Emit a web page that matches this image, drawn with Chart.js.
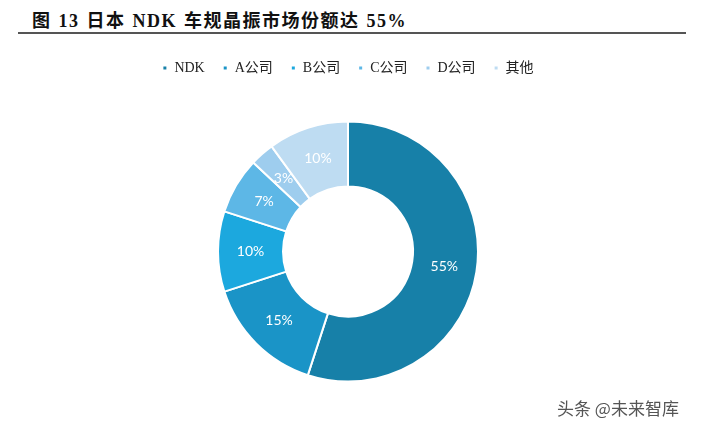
<!DOCTYPE html>
<html lang="zh">
<head>
  <meta charset="UTF-8">
  <title>日本 NDK 车规晶振市场份额</title>
  <script src="https://cdn.jsdelivr.net/npm/chart.js"></script>
  <style>
    body { margin: 0; background: #fff; width: 723px; height: 446px; position: relative; overflow: hidden; }
    #title { position: absolute; left: 32px; top: 6px; font: bold 18px "Liberation Serif", "Noto Sans CJK SC", serif; color: #111; white-space: nowrap; letter-spacing: 1.5px; word-spacing: 1px; }
    #rule { position: absolute; left: 18px; top: 32px; width: 668px; height: 2px; background: #555; }
    #mark { position: absolute; left: 557px; top: 395px; font: 17px "Noto Sans CJK SC", sans-serif; color: #555; }
    #wrap { position: absolute; left: 0; top: 43px; width: 723px; height: 403px; }
  </style>
</head>
<body>
  <div id="title">图 13 日本 NDK 车规晶振市场份额达 55%</div>
  <div id="rule"></div>
  <div id="wrap"><canvas id="myChart"></canvas></div>
  <div id="mark">头条 @未来智库</div>

  <script>
    // categories and shares (%)
    const labels = ['NDK', 'A公司', 'B公司', 'C公司', 'D公司', '其他'];
    const shares = [55, 15, 10, 7, 3, 10];
    const colors = ['#1780a8', '#1a94c7', '#1ca8de', '#5db7e6', '#9ecdee', '#bedcf2'];

    // draw the percentage text in the middle of each slice
    const sliceLabels = {
      id: 'sliceLabels',
      afterDatasetsDraw(chart) {
        const ctx = chart.ctx;
        const meta = chart.getDatasetMeta(0);
        ctx.save();
        ctx.font = '14px Lato, "Open Sans", sans-serif';
        ctx.fillStyle = '#fff';
        ctx.textAlign = 'center';
        ctx.textBaseline = 'middle';
        meta.data.forEach((arc, i) => {
          const p = arc.tooltipPosition();
          ctx.fillText(shares[i] + '%', p.x, p.y);
        });
        ctx.restore();
      }
    };

    const ctx = document.getElementById('myChart').getContext('2d');
    new Chart(ctx, {
      type: 'doughnut',
      data: {
        labels: labels,
        datasets: [{
          data: shares,
          backgroundColor: colors,
          borderColor: '#fff',
          borderWidth: 2,
          radius: 130
        }]
      },
      options: {
        responsive: true,
        maintainAspectRatio: false,
        animation: false,
        cutout: '50%',
        layout: { padding: { top: 0, bottom: 28, left: 0, right: 27 } },
        plugins: {
          legend: {
            position: 'top',
            labels: {
              boxWidth: 5,
              boxHeight: 5,
              padding: 18,
              color: '#222',
              font: { size: 14, family: '"Liberation Serif", "Noto Sans CJK SC", serif' }
            }
          },
          tooltip: { enabled: false }
        }
      },
      plugins: [sliceLabels]
    });
  </script>
</body>
</html>
